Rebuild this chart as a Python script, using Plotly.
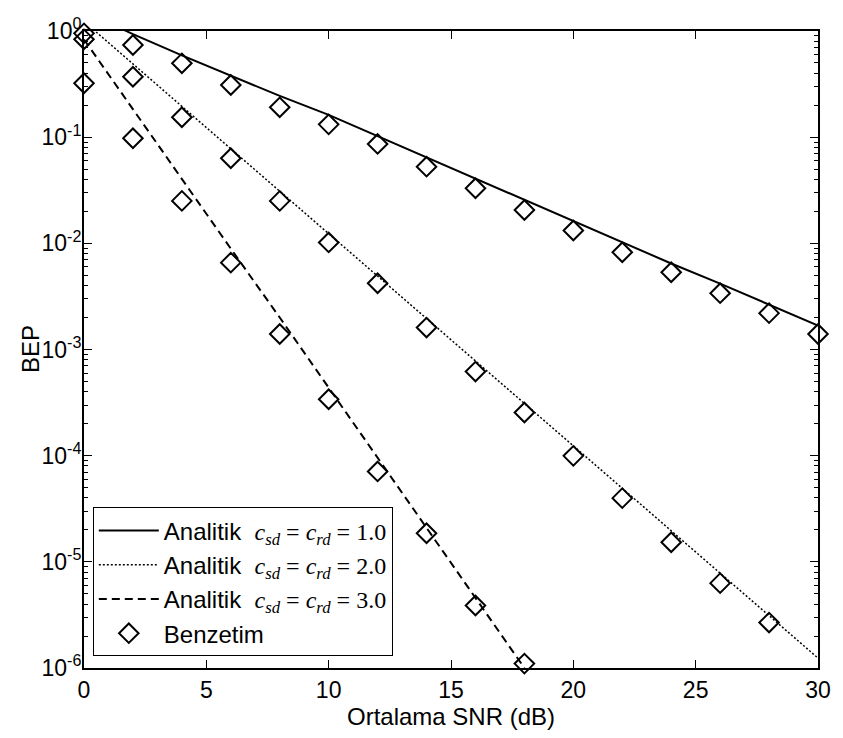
import plotly.graph_objects as go

# ---- data ----
snr_line = [0, 2, 4, 6, 8, 10, 12, 14, 16, 18, 20, 22, 24, 26, 28, 30]
analitik_c1 = [1.55, 0.933, 0.589, 0.380, 0.245, 0.162, 0.102, 0.0646, 0.0407,
               0.0257, 0.0162, 0.0102, 0.00646, 0.00417, 0.00263, 0.00168]
analitik_c2 = [1.23, 0.490, 0.195, 0.0776, 0.0309, 0.0123, 0.0049, 0.00195,
               7.76e-4, 3.09e-4, 1.23e-4, 4.9e-5, 1.95e-5, 7.76e-6, 3.09e-6, 1.24e-6]
snr_line_c3 = [0, 2, 4, 6, 8, 10, 12, 14, 16, 18]
analitik_c3 = [0.832, 0.182, 0.0398, 0.00891, 0.00200, 4.37e-4, 9.55e-5,
               2.09e-5, 4.57e-6, 1.0e-6]

snr_sim = [0, 2, 4, 6, 8, 10, 12, 14, 16, 18, 20, 22, 24, 26, 28, 30]
benzetim_c1 = [0.95, 0.738, 0.496, 0.310, 0.191, 0.132, 0.0863, 0.0527, 0.0330,
               0.0206, 0.0132, 0.00824, 0.00534, 0.00339, 0.00220, 0.00140]
snr_sim_c2 = [0, 2, 4, 6, 8, 10, 12, 14, 16, 18, 20, 22, 24, 26, 28]
benzetim_c2 = [0.835, 0.371, 0.154, 0.0633, 0.0251, 0.0102, 0.00421, 0.00161,
               6.2e-4, 2.55e-4, 9.96e-5, 3.98e-5, 1.53e-5, 6.3e-6, 2.68e-6]
snr_sim_c3 = [0, 2, 4, 6, 8, 10, 12, 14, 16, 18]
benzetim_c3 = [0.322, 0.0977, 0.0251, 0.00658, 0.00140, 3.4e-4, 7.1e-5,
               1.86e-5, 3.88e-6, 1.1e-6]

legend_labels = ["1.0", "2.0", "3.0"]
x_ticks = [0, 5, 10, 15, 20, 25, 30]
y_exponents = [0, -1, -2, -3, -4, -5, -6]

SANS = "Liberation Sans, Arial, sans-serif"
SERIF = "Liberation Serif, Times New Roman, serif"


def math_label(val):
    return ("Analitik&nbsp;&nbsp;<span style='font-family:" + SERIF + "'>"
            "<i>c<sub>sd</sub></i>&nbsp;=&nbsp;<i>c<sub>rd</sub></i>&nbsp;=&nbsp;" + val + "</span>")


fig = go.Figure()
fig.add_trace(go.Scatter(x=snr_line, y=analitik_c1, mode="lines",
                         line=dict(color="black", width=2),
                         name=math_label(legend_labels[0])))
fig.add_trace(go.Scatter(x=snr_line, y=analitik_c2, mode="lines",
                         line=dict(color="black", width=1.5, dash="2px,2px"),
                         name=math_label(legend_labels[1])))
fig.add_trace(go.Scatter(x=snr_line_c3, y=analitik_c3, mode="lines",
                         line=dict(color="black", width=2, dash="8px,5px"),
                         name=math_label(legend_labels[2])))

mk = dict(symbol="diamond-open", size=15, color="black", line=dict(width=2, color="black"))
fig.add_trace(go.Scatter(x=snr_sim, y=benzetim_c1, mode="markers", marker=mk,
                         name="Benzetim", legendgroup="sim", showlegend=False,
                         cliponaxis=False))
fig.add_trace(go.Scatter(x=snr_sim_c2, y=benzetim_c2, mode="markers", marker=mk,
                         name="Benzetim", legendgroup="sim", showlegend=False,
                         cliponaxis=False))
fig.add_trace(go.Scatter(x=snr_sim_c3, y=benzetim_c3, mode="markers", marker=mk,
                         name="Benzetim", legendgroup="sim", showlegend=True,
                         cliponaxis=False))

minor_vals = [m * 10.0 ** e for e in range(-6, 0) for m in range(2, 10)]

fig.update_layout(
    width=843, height=738,
    margin=dict(l=84, r=18, t=31, b=70),
    paper_bgcolor="white", plot_bgcolor="white",
    font=dict(family=SANS, size=23, color="black"),
    showlegend=True,
    legend=dict(x=0.012, y=0.252, xanchor="left", yanchor="top",
                bgcolor="white", bordercolor="black", borderwidth=1,
                font=dict(family=SANS, size=24, color="black"),
                tracegroupgap=0, itemwidth=60),
    xaxis=dict(range=[0, 30], tickmode="array", tickvals=x_ticks,
               ticktext=[str(v) for v in x_ticks],
               tickfont=dict(size=23),
               ticks="inside", ticklen=8, tickwidth=1, tickcolor="black",
               showline=True, linecolor="black", linewidth=2, mirror="allticks",
               showgrid=False, zeroline=False,
               title=dict(text="Ortalama SNR (dB)", standoff=6,
                          font=dict(size=24))),
    yaxis=dict(type="log", range=[-6, 0], tickmode="array",
               tickvals=[10.0 ** e for e in y_exponents],
               ticktext=["10<sup>%d</sup>" % e for e in y_exponents],
               tickfont=dict(size=23), ticklabelstandoff=-4,
               ticks="inside", ticklen=8, tickwidth=1, tickcolor="black",
               showline=True, linecolor="black", linewidth=2, mirror="allticks",
               showgrid=False, zeroline=False,
               minor=dict(tickmode="array", tickvals=minor_vals, ticks="inside",
                          ticklen=4, tickwidth=1, tickcolor="black", showgrid=False)),
    annotations=[dict(text="BEP", xref="paper", yref="paper",
                      x=(30 - 84) / 741, y=0.5, xanchor="center", yanchor="middle",
                      textangle=-90, showarrow=False, font=dict(size=24))],
)

fig.write_html("out.html")
